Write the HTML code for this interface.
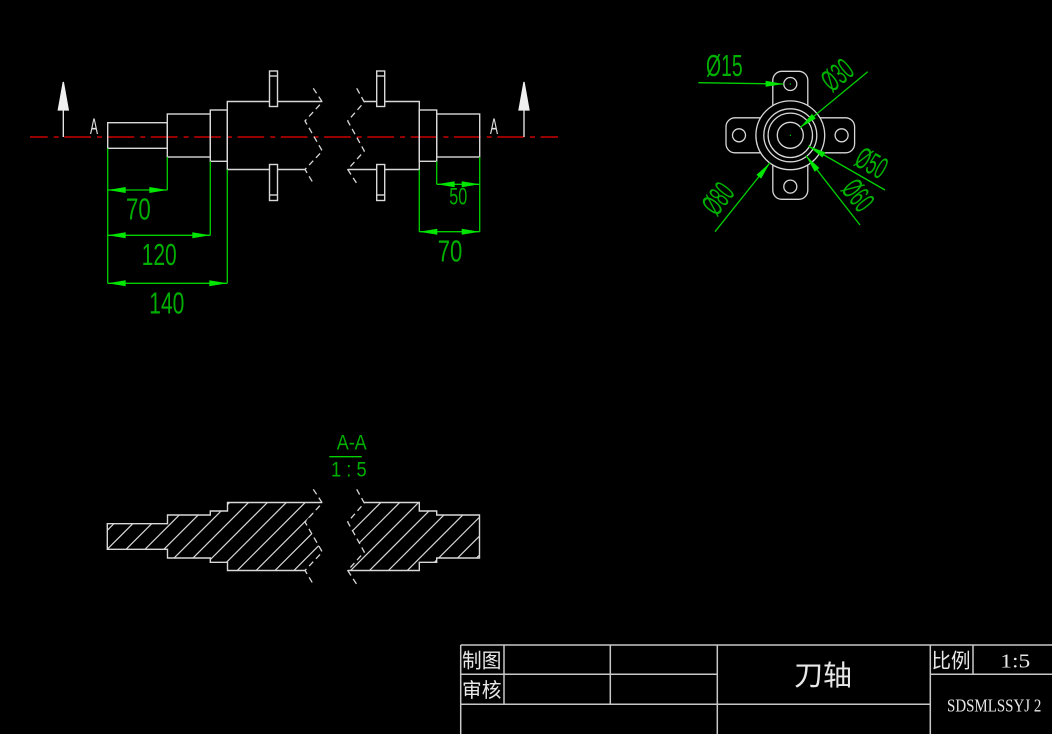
<!DOCTYPE html>
<html><head><meta charset="utf-8"><style>
html,body{margin:0;padding:0;background:#000;}
svg{display:block;}
</style></head><body>
<svg width="1052" height="734" viewBox="0 0 1052 734" xmlns="http://www.w3.org/2000/svg">
<rect width="1052" height="734" fill="#000"/>
<defs>
<clipPath id="secL"><polygon points="107.3,523.7 167.5,523.7 167.5,515 210.3,515 210.3,511 227.5,511 227.5,502.5 322.3,502.5 305,522 322.3,552 305,570.5 227.5,570.5 227.5,562.3 210.3,562.3 210.3,558 167.5,558 167.5,549.3 107.3,549.3"/></clipPath>
<clipPath id="secR"><polygon points="364.3,502.5 419.3,502.5 419.3,511 436.7,511 436.7,515 479.5,515 479.5,558 436.7,558 436.7,562.3 419.3,562.3 419.3,570.5 347.7,570.5 364.3,552 347.7,522"/></clipPath>
</defs>

<!-- centerline -->
<path d="M30 137 H558" stroke="#c80000" stroke-width="1.6" stroke-dasharray="26.7 6 5 5.6" stroke-dashoffset="9" fill="none"/>

<!-- main view shaft -->
<g stroke="#d8d8d8" stroke-width="1.4" fill="none">
<rect x="107.7" y="122.7" width="59.6" height="25.6"/>
<rect x="167.3" y="114" width="43" height="43"/>
<rect x="210.3" y="110" width="17" height="51.3"/>
<path d="M322.3 101.5 H227.3 V169.5 H305"/>
<path d="M364.3 101.5 H419.3 V169.5 H347.7"/>
<rect x="419.3" y="110" width="17.4" height="51.3"/>
<rect x="436.7" y="114" width="43" height="43"/>
<rect x="269.5" y="71" width="8" height="35.5" fill="#000"/>
<path d="M269.5 76 H277.5"/>
<rect x="269.5" y="164.5" width="8" height="36" fill="#000"/>
<path d="M269.5 195 H277.5"/>
<rect x="376.7" y="71" width="8" height="35.5" fill="#000"/>
<path d="M376.7 76 H384.7"/>
<rect x="376.7" y="164.5" width="8" height="36" fill="#000"/>
<path d="M376.7 195 H384.7"/>
</g>
<g stroke="#d8d8d8" stroke-width="1.3" fill="none" stroke-dasharray="6 4">
<path d="M313.3 88.3 L322.3 102 L305 121 L322.3 151 L305 169.5 L313.3 183.3"/>
<path d="M356.7 88.3 L364.3 102 L347.7 121 L364.3 151 L347.7 169.5 L356.7 183.3"/>
</g>

<!-- section markers -->
<g fill="#f0f0f0" stroke="#f0f0f0" stroke-width="1.3">
<polygon points="63.3,82 58.3,110 68.3,110"/>
<path d="M63.3 110 V137" fill="none"/>
<polygon points="524,82 519,110 529,110"/>
<path d="M524 110 V137" fill="none"/>
</g>
<g font-family="Liberation Sans, sans-serif" fill="#e0e0e0" font-size="22">
<text x="90" y="134" textLength="8" lengthAdjust="spacingAndGlyphs">A</text>
<text x="490" y="134" textLength="8" lengthAdjust="spacingAndGlyphs">A</text>
</g>

<!-- dimensions main view -->
<g stroke="#00d000" stroke-width="1.3" fill="none">
<path d="M107.7 148.3 V283.3 M167.3 157 V190 M210.3 161.3 V235.3 M227.3 169.5 V283.3"/>
<path d="M436.7 161.3 V184.3 M479.7 157 V231.7 M419.3 169.5 V231.7"/>
<path d="M107.7 190 H167.3 M107.7 235.3 H210.3 M107.7 283.3 H227.3 M436.7 184.3 H479.7 M419.3 231.7 H479.7"/>
<path d="M329.3 456.7 H361.7"/>
</g>
<g fill="#00e600">
<polygon points="107.7,190 125.7,187 125.7,193"/><polygon points="167.3,190 149.3,187 149.3,193"/>
<polygon points="107.7,235.3 125.7,232.3 125.7,238.3"/><polygon points="210.3,235.3 192.3,232.3 192.3,238.3"/>
<polygon points="107.7,283.3 125.7,280.3 125.7,286.3"/><polygon points="227.3,283.3 209.3,280.3 209.3,286.3"/>
<polygon points="436.7,184.3 454.7,181.3 454.7,187.3"/><polygon points="479.7,184.3 461.7,181.3 461.7,187.3"/>
<polygon points="419.3,231.7 437.3,228.7 437.3,234.7"/><polygon points="479.7,231.7 461.7,228.7 461.7,234.7"/>
</g>
<g font-family="Liberation Sans, sans-serif" fill="#00b000" font-size="31">
<text x="126" y="219.3" textLength="24.7" lengthAdjust="spacingAndGlyphs">70</text>
<text x="141.7" y="265" textLength="35" lengthAdjust="spacingAndGlyphs">120</text>
<text x="149.3" y="313.3" textLength="35" lengthAdjust="spacingAndGlyphs">140</text>
<text x="449.3" y="204.3" font-size="24" textLength="18" lengthAdjust="spacingAndGlyphs">50</text>
<text x="437.7" y="261.7" textLength="24.6" lengthAdjust="spacingAndGlyphs">70</text>
<text x="336.7" y="449.3" font-size="21" textLength="30" lengthAdjust="spacingAndGlyphs">A-A</text>
<text x="331" y="476.7" font-size="21" textLength="35.7" lengthAdjust="spacingAndGlyphs">1 : 5</text>
</g>

<!-- section view -->
<g stroke="#d8d8d8" stroke-width="1.2" fill="none">
<g clip-path="url(#secL)">
<path d="M157.6 480 L37.6 600 M176.5 480 L56.5 600 M195.4 480 L75.4 600 M214.3 480 L94.3 600 M233.2 480 L113.2 600 M252.1 480 L132.1 600 M271 480 L151 600 M289.9 480 L169.9 600 M308.8 480 L188.8 600 M327.7 480 L207.7 600 M346.6 480 L226.6 600 M365.5 480 L245.5 600 M384.4 480 L264.4 600 M403.3 480 L283.3 600"/>
</g>
<g clip-path="url(#secR)">
<path d="M403.3 480 L283.3 600 M422.2 480 L302.2 600 M441.1 480 L321.1 600 M460 480 L340 600 M478.9 480 L358.9 600 M497.8 480 L377.8 600 M516.7 480 L396.7 600 M535.6 480 L415.6 600 M554.5 480 L434.5 600 M573.4 480 L453.4 600"/>
</g>
</g>
<g stroke="#d8d8d8" stroke-width="1.4" fill="none">
<path d="M322.3 502.5 H227.5 V511 H210.3 V515 H167.5 V523.7 H107.3 V549.3 H167.5 V558 H210.3 V562.3 H227.5 V570.5 H305"/>
<path d="M364.3 502.5 H419.3 V511 H436.7 V515 H479.5 V558 H436.7 V562.3 H419.3 V570.5 H347.7"/>
</g>
<g stroke="#d8d8d8" stroke-width="1.3" fill="none" stroke-dasharray="6 4">
<path d="M313.3 489.3 L322.3 503 L305 522 L322.3 552 L305 570.5 L313.3 584.3"/>
<path d="M356.7 489.3 L364.3 503 L347.7 522 L364.3 552 L347.7 570.5 L356.7 584.3"/>
</g>

<!-- side view -->
<g stroke="#d8d8d8" stroke-width="1.3" fill="none">
<path d="M772.8 105.7 V80.3 A9 9 0 0 1 781.8 71.3 H798.8 A9 9 0 0 1 807.8 80.3 V105.7"/>
<path d="M772.8 164.9 V190.3 A9 9 0 0 0 781.8 199.3 H798.8 A9 9 0 0 0 807.8 190.3 V164.9"/>
<path d="M760.7 117.8 H735 A9 9 0 0 0 726 126.8 V143.8 A9 9 0 0 0 735 152.8 H760.7"/>
<path d="M819.9 117.8 H845.6 A9 9 0 0 1 854.6 126.8 V143.8 A9 9 0 0 1 845.6 152.8 H819.9"/>
<circle cx="790.3" cy="135.3" r="34.4"/>
<circle cx="790.3" cy="135.3" r="26.5"/>
<circle cx="790.3" cy="135.3" r="22.2"/>
<circle cx="790.3" cy="135.3" r="13"/>
<circle cx="790.3" cy="84" r="6.5"/>
<circle cx="790.3" cy="186.6" r="6.5"/>
<circle cx="739" cy="135.3" r="6.5"/>
<circle cx="841.6" cy="135.3" r="6.5"/>
</g>
<g fill="#00d000">
<rect x="789.8" y="134.8" width="1.2" height="1.2"/>
<rect x="789.8" y="83.5" width="1.2" height="1.2"/>
</g>
<g stroke="#00d000" stroke-width="1.3" fill="none">
<path d="M698.3 82.7 L783.6 84"/>
<path d="M867.7 71.7 L800 127.7"/>
<path d="M885 190 L808.3 146"/>
<path d="M860 225 L806 155.7"/>
<path d="M715 231.7 L770 162.7"/>
</g>
<g fill="#00e600">
<polygon points="783.6,84 765.6,80.7 765.6,86.7"/>
<polygon points="800,127.7 811.96,113.92 815.78,118.54"/>
<polygon points="808.3,146 825.4,152.36 822.42,157.56"/>
<polygon points="806,155.7 819.43,168.06 814.69,171.74"/>
<polygon points="770,162.7 761.13,178.65 756.43,174.91"/>
</g>
<g font-family="Liberation Sans, sans-serif" fill="#00b000" font-size="31">
<text x="706" y="76" textLength="36.7" lengthAdjust="spacingAndGlyphs">Ø15</text>
<text transform="translate(832 93) rotate(-39.4)" x="0" y="0" textLength="31" lengthAdjust="spacingAndGlyphs">Ø30</text>
<text transform="translate(852.8 164.5) rotate(29.5)" x="0" y="0" textLength="31" lengthAdjust="spacingAndGlyphs">Ø50</text>
<text transform="translate(840.1 189.6) rotate(51.7)" x="0" y="0" textLength="31" lengthAdjust="spacingAndGlyphs">Ø60</text>
<text transform="translate(716.7 217.3) rotate(-52)" x="0" y="0" textLength="31" lengthAdjust="spacingAndGlyphs">Ø80</text>
</g>

<!-- title block -->
<g stroke="#c8c8c8" stroke-width="1.5" fill="none">
<path d="M460.7 645 H1052 M460.7 645 V734 M460.7 674.3 H717.3 M460.7 704.3 H930.3 M504 645 V704.3 M610.3 645 V704.3 M717.3 645 V734 M930.3 645 V734 M930.3 674.3 H1052 M973 645 V674.3"/>
</g>
<g fill="#e8e8e8" font-family="Liberation Sans, 'Noto Sans CJK SC', sans-serif">
<text x="462" y="667.6" font-size="20" textLength="39.4" lengthAdjust="spacingAndGlyphs">制图</text>
<text x="462" y="697" font-size="20" textLength="39.4" lengthAdjust="spacingAndGlyphs">审核</text>
<text x="794" y="685" font-size="28" textLength="58" lengthAdjust="spacingAndGlyphs">刀轴</text>
<text x="931.5" y="667.6" font-size="20" textLength="39" lengthAdjust="spacingAndGlyphs">比例</text>
</g>
<g fill="#e8e8e8" font-family="Liberation Serif, serif">
<text x="1000.3" y="667.3" font-size="20" textLength="30" lengthAdjust="spacingAndGlyphs">1:5</text>
<text x="947" y="711.7" font-size="17.5" textLength="94.3" lengthAdjust="spacingAndGlyphs">SDSMLSSYJ 2</text>
</g>
</svg>
</body></html>
